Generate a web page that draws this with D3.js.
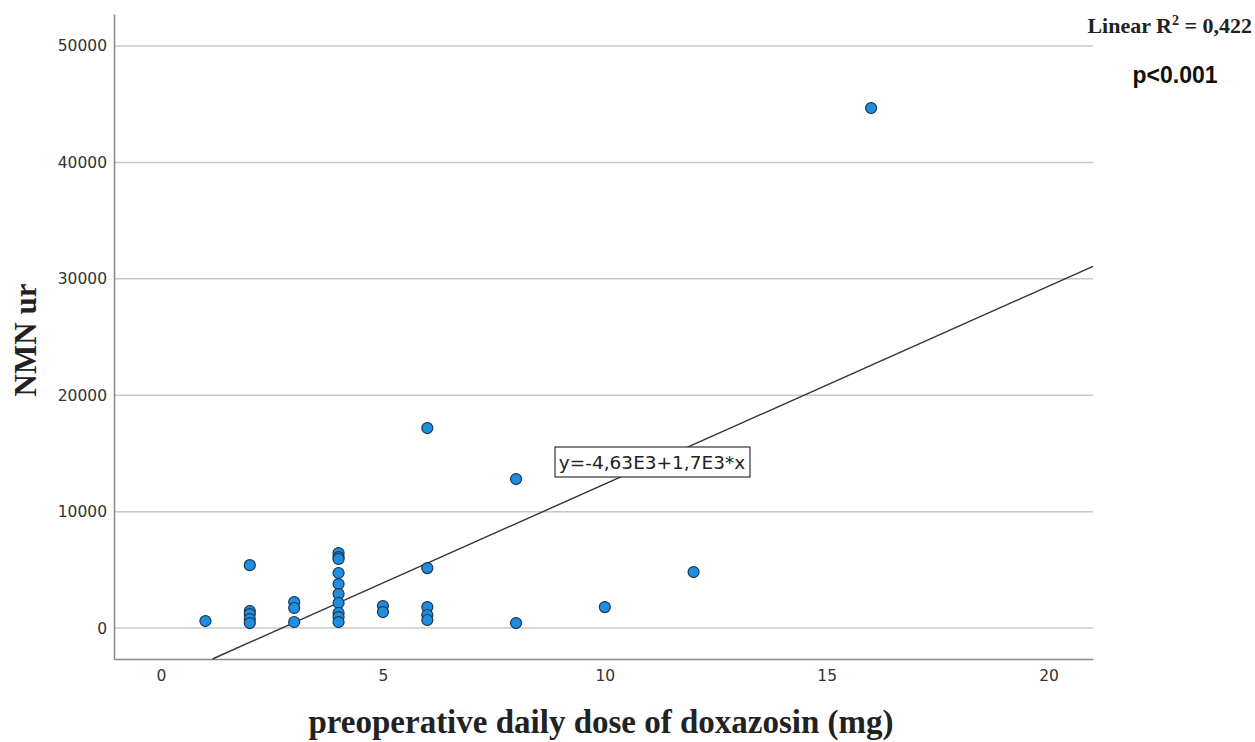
<!DOCTYPE html>
<html>
<head>
    <meta charset="utf-8">
    <title>Scatter</title>
    <script type="text/javascript" src="https://cdn.jsdelivr.net/npm/d3@7"></script>
    <style type="text/css">
        body { margin: 0; background: #fff; }
        .tick text { font-family: "DejaVu Sans", sans-serif; font-size: 15.5px; fill: #333; }
        .serif { font-family: "Liberation Serif", "DejaVu Serif", serif; font-weight: bold; fill: #222; }
        .grid line { stroke: #c8c8c8; stroke-width: 1.5px; }
        .dot { fill: #1f8ee0; stroke: #1b3550; stroke-width: 1.2px; }
    </style>
</head>
<body>
<script type="text/javascript">
    // dose (mg) and NMN ur values
    var dose = [1, 2, 2, 2, 2, 2, 3, 3, 3,
        4, 4, 4, 4, 4, 4, 4, 4, 4, 4,
        5, 5, 6, 6, 6, 6, 6, 8, 8, 10, 12, 16];
    var nmn = [600, 5400, 1460, 1200, 770, 430, 2230, 1720, 520,
        6440, 6100, 5930, 4730, 3780, 2920, 2150, 1290, 945, 515,
        1890, 1375, 17180, 5150, 1800, 1120, 690, 12800, 430, 1800, 4810, 44670];
    var xTicks = [0, 5, 10, 15, 20];
    var yTicks = [0, 10000, 20000, 30000, 40000, 50000];
    var fit = {intercept: -4630, slope: 1700};

    var _width = 1255, _height = 742;
    var _left = 114, _right = 1093, _top = 14, _bottom = 659;

    var x = d3.scaleLinear().domain([-1.06, 21.0]).range([_left, _right]);
    var y = d3.scaleLinear().domain([-2660, 52750]).range([_bottom, _top]);

    var svg = d3.select("body").append("svg")
            .attr("width", _width)
            .attr("height", _height);

    // horizontal grid
    svg.append("g").attr("class", "grid")
        .selectAll("line").data(yTicks).enter().append("line")
            .attr("x1", _left).attr("x2", _right)
            .attr("y1", function (d) { return y(d); })
            .attr("y2", function (d) { return y(d); });

    var yAxis = svg.append("g")
            .attr("transform", "translate(" + _left + ",0)")
            .call(d3.axisLeft(y).tickValues(yTicks).tickSize(0).tickPadding(7).tickFormat(d3.format("d")));
    yAxis.select(".domain").attr("stroke", "#888").attr("stroke-width", 1.5);

    var xAxis = svg.append("g")
            .attr("transform", "translate(0," + _bottom + ")")
            .call(d3.axisBottom(x).tickValues(xTicks).tickSize(0).tickPadding(11));
    xAxis.select(".domain").attr("stroke", "#888").attr("stroke-width", 1.5);

    // regression line, clipped to the plot area
    var x0 = (y.domain()[0] - fit.intercept) / fit.slope, x1 = x.domain()[1];
    svg.append("line")
        .attr("x1", x(x0)).attr("y1", y(fit.intercept + fit.slope * x0))
        .attr("x2", x(x1)).attr("y2", y(fit.intercept + fit.slope * x1))
        .attr("stroke", "#333").attr("stroke-width", 1.4);

    // equation label
    var eq = svg.append("g").attr("transform", "translate(652,462)");
    eq.append("rect")
        .attr("x", -97).attr("y", -15).attr("width", 195).attr("height", 30)
        .attr("fill", "#fff").attr("stroke", "#333").attr("stroke-width", 1.2);
    eq.append("text")
        .attr("text-anchor", "middle").attr("dy", "0.36em")
        .style("font-family", "DejaVu Sans, sans-serif").style("font-size", "18.5px").style("fill", "#222")
        .text("y=-4,63E3+1,7E3*x");

    svg.append("g").selectAll("circle")
        .data(dose.map(function (d, i) { return [d, nmn[i]]; }))
        .enter().append("circle")
            .attr("class", "dot")
            .attr("cx", function (d) { return x(d[0]); })
            .attr("cy", function (d) { return y(d[1]); })
            .attr("r", 5.5);

    // titles
    svg.append("text").attr("class", "serif")
        .attr("x", 601).attr("y", 733)
        .attr("text-anchor", "middle").style("font-size", "33px")
        .text("preoperative daily dose of doxazosin (mg)");

    svg.append("text").attr("class", "serif")
        .attr("transform", "translate(36,340) rotate(-90)")
        .attr("text-anchor", "middle").style("font-size", "31px")
        .text("NMN ur");

    var r2 = svg.append("text").attr("class", "serif")
        .attr("x", 1252).attr("y", 33)
        .attr("text-anchor", "end").style("font-size", "22px");
    r2.append("tspan").text("Linear R");
    r2.append("tspan").attr("dy", -8).style("font-size", "14px").text("2");
    r2.append("tspan").attr("dy", 8).text(" = 0,422");

    svg.append("text")
        .attr("x", 1175).attr("y", 83)
        .attr("text-anchor", "middle")
        .style("font-family", "Liberation Sans, Arial, sans-serif").style("font-weight", "bold")
        .style("font-size", "23px").style("fill", "#111")
        .text("p<0.001");
</script>
</body>
</html>
